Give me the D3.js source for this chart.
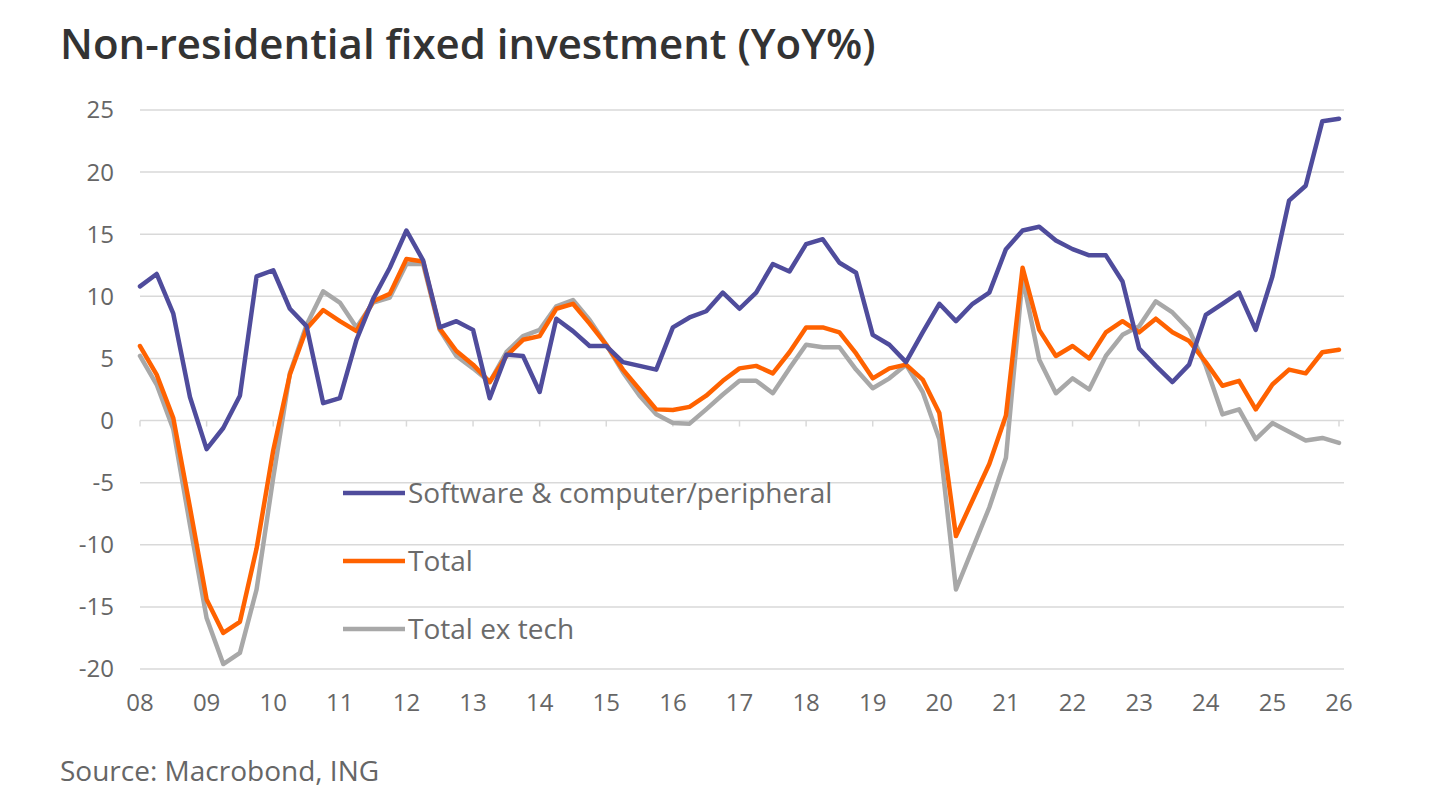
<!DOCTYPE html>
<html>
<head>
<meta charset="utf-8">
<script src="https://cdn.jsdelivr.net/npm/d3@7"></script>
<style>
  html, body { margin: 0; padding: 0; background: #fff; }
  svg { display: block; font-family: "Open Sans", sans-serif; }
  .grid line { stroke: #d9d9d9; stroke-width: 1.5; }
  .tick-label { fill: #666; font-size: 24px; }
  .legend text { fill: #6b6b6b; font-size: 28px; }
</style>
</head>
<body>
<svg id="chart" width="1439" height="806"></svg>
<script>
// quarterly, first point 2008 Q1
const startYear = 2008;

const software = [10.8, 11.8, 8.6, 1.9, -2.3, -0.6, 2.0, 11.6, 12.1, 9.0, 7.6, 1.4,
  1.8, 6.5, 9.8, 12.3, 15.3, 12.9, 7.5, 8.0, 7.3, 1.8, 5.3, 5.2,
  2.3, 8.2, 7.2, 6.0, 6.0, 4.7, 4.4, 4.1, 7.5, 8.3, 8.8, 10.3,
  9.0, 10.3, 12.6, 12.0, 14.2, 14.6, 12.7, 11.9, 6.9, 6.1, 4.7, 7.1,
  9.4, 8.0, 9.4, 10.3, 13.8, 15.3, 15.6, 14.5, 13.8, 13.3, 13.3, 11.2,
  5.8, 4.4, 3.1, 4.5, 8.5, 9.4, 10.3, 7.3, 11.6, 17.7, 18.9, 24.1, 24.3];

const total = [6.0, 3.7, 0.2, -7.0, -14.4, -17.1, -16.2, -10.3, -2.4, 3.7, 7.4, 8.9,
  8.0, 7.2, 9.6, 10.2, 13.0, 12.8, 7.4, 5.6, 4.5, 3.1, 5.2, 6.5,
  6.8, 9.0, 9.4, 7.8, 6.1, 4.1, 2.5, 0.9, 0.85, 1.1, 2.0, 3.2,
  4.2, 4.4, 3.8, 5.5, 7.5, 7.5, 7.1, 5.4, 3.4, 4.2, 4.5, 3.3,
  0.6, -9.3, -6.4, -3.5, 0.4, 12.3, 7.3, 5.2, 6.0, 5.0, 7.1, 8.0,
  7.1, 8.2, 7.1, 6.4, 4.7, 2.8, 3.2, 0.9, 2.9, 4.1, 3.8, 5.5, 5.7];

const totalExTech = [5.2, 2.9, -0.7, -8.4, -15.9, -19.6, -18.7, -13.6, -4.6, 3.8, 7.7, 10.4,
  9.5, 7.5, 9.5, 9.9, 12.6, 12.6, 7.3, 5.2, 4.2, 3.1, 5.5, 6.8,
  7.3, 9.2, 9.7, 8.1, 6.1, 3.9, 2.0, 0.5, -0.2, -0.25, 0.9, 2.1,
  3.2, 3.2, 2.2, 4.2, 6.1, 5.9, 5.9, 4.1, 2.6, 3.4, 4.5, 2.3,
  -1.5, -13.6, -10.3, -7.0, -3.0, 11.5, 4.9, 2.2, 3.4, 2.5, 5.2, 6.9,
  7.6, 9.6, 8.7, 7.3, 4.4, 0.5, 0.9, -1.5, -0.2, -0.9, -1.6, -1.4, -1.8];

const yTicks = [25, 20, 15, 10, 5, 0, -5, -10, -15, -20];
const xYears = d3.range(2008, 2027);

const series = [
  { name: 'Software & computer/peripheral', values: software, color: '#4f4c9c' },
  { name: 'Total', values: total, color: '#ff6200' },
  { name: 'Total ex tech', values: totalExTech, color: '#a8a8a8' }
];

const svg = d3.select('#chart');

const x = d3.scaleLinear().domain([2008, 2026]).range([140, 1339]);
const y = d3.scaleLinear().domain([-20, 25]).range([669, 110]);

// title
svg.append('text')
  .attr('x', 60)
  .attr('y', 59)
  .attr('font-size', 42)
  .attr('font-weight', 600)
  .attr('fill', '#333')
  .text('Non-residential fixed investment (YoY%)');

// gridlines
svg.append('g')
  .attr('class', 'grid')
  .selectAll('line')
  .data(yTicks)
  .enter()
  .append('line')
  .attr('x1', 140)
  .attr('x2', 1344)
  .attr('y1', d => y(d))
  .attr('y2', d => y(d));

// y labels
svg.append('g')
  .selectAll('text')
  .data(yTicks)
  .enter()
  .append('text')
  .attr('class', 'tick-label')
  .attr('x', 114)
  .attr('y', d => y(d))
  .attr('dy', '0.35em')
  .attr('text-anchor', 'end')
  .text(d => d);

// year ticks hang off the zero line
svg.append('g')
  .attr('class', 'grid')
  .selectAll('line')
  .data(xYears)
  .enter()
  .append('line')
  .attr('x1', d => x(d))
  .attr('x2', d => x(d))
  .attr('y1', y(0))
  .attr('y2', y(0) + 6);

svg.append('g')
  .selectAll('text')
  .data(xYears)
  .enter()
  .append('text')
  .attr('class', 'tick-label')
  .attr('x', d => x(d))
  .attr('y', 703)
  .attr('dy', '0.35em')
  .attr('text-anchor', 'middle')
  .text(d => String(d % 100).padStart(2, '0'));

// legend (sits over the gridlines, no box)
const legend = svg.append('g').attr('class', 'legend');
const legendY = [493, 561, 629];
series.forEach((s, i) => {
  legend.append('line')
    .attr('x1', 343).attr('x2', 405)
    .attr('y1', legendY[i]).attr('y2', legendY[i])
    .attr('stroke', s.color)
    .attr('stroke-width', 4.5);
  legend.append('text')
    .attr('x', 408)
    .attr('y', legendY[i])
    .attr('dy', '0.35em')
    .text(s.name);
});

// lines, grey first so the others draw on top
const line = d3.line()
  .x((d, i) => x(startYear + i / 4))
  .y(d => y(d));

svg.append('g')
  .selectAll('path')
  .data(series.slice().reverse())
  .enter()
  .append('path')
  .attr('d', d => line(d.values))
  .attr('fill', 'none')
  .attr('stroke', d => d.color)
  .attr('stroke-width', 4.5)
  .attr('stroke-linejoin', 'round')
  .attr('stroke-linecap', 'round');

// source
svg.append('text')
  .attr('x', 60)
  .attr('y', 781)
  .attr('font-size', 28)
  .attr('fill', '#666')
  .text('Source: Macrobond, ING');
</script>
</body>
</html>
